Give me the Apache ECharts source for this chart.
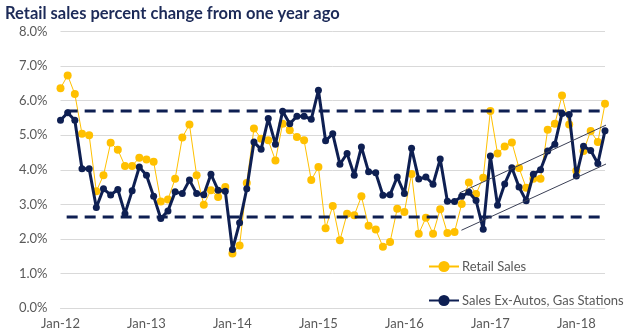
<!DOCTYPE html>
<html>
<head>
<meta charset="utf-8">
<script src="https://cdn.jsdelivr.net/npm/echarts@6/dist/echarts.min.js"></script>
<style>
html,body{margin:0;padding:0;background:#fff;}
#c{width:626px;height:332px;}
</style>
</head>
<body>
<div id="c"></div>
<script>
// ---- data ----
const years = ['12','13','14','15','16','17','18'];
const monthNames = ['Jan','Feb','Mar','Apr','May','Jun','Jul','Aug','Sep','Oct','Nov','Dec'];
const categories = [];
years.forEach(y => monthNames.forEach(m => categories.push(m + '-' + y)));
categories.length = 77; // Jan-12 .. May-18

const retailSales = [
  6.36, 6.73, 6.19, 5.04, 5.00, 3.38, 3.84, 4.78, 4.58, 4.11, 4.11, 4.35,
  4.30, 4.23, 3.08, 3.14, 3.74, 4.93, 5.31, 3.84, 2.99, 3.41, 3.21, 3.50,
  1.58, 1.81, 3.62, 5.19, 4.90, 4.85, 4.27, 5.33, 5.14, 4.95, 4.85, 3.70,
  4.08, 2.31, 2.95, 1.96, 2.73, 2.68, 3.23, 2.38, 2.27, 1.77, 1.91, 2.87,
  2.78, 3.88, 2.15, 2.61, 2.15, 2.86, 2.17, 2.20, 3.01, 3.63, 3.30, 3.77,
  5.70, 4.47, 4.67, 4.79, 4.05, 3.48, 3.74, 3.74, 5.16, 5.33, 6.15, 5.31,
  3.97, 4.54, 5.12, 4.80, 5.91
];
const salesExAutosGas = [
  5.43, 5.65, 5.43, 4.03, 4.03, 2.91, 3.45, 3.27, 3.43, 2.73, 3.39, 4.08,
  3.84, 3.23, 2.59, 2.81, 3.36, 3.31, 3.70, 3.31, 3.28, 3.87, 3.41, 3.38,
  1.69, 2.47, 3.45, 4.80, 4.59, 5.48, 4.74, 5.69, 5.33, 5.55, 5.55, 5.46,
  6.30, 4.84, 5.04, 4.16, 4.47, 3.84, 4.66, 3.94, 3.91, 3.26, 3.28, 3.79,
  3.31, 4.62, 3.73, 3.79, 3.58, 4.31, 3.09, 3.08, 3.23, 3.35, 3.11, 2.28,
  4.40, 2.97, 3.59, 4.06, 3.50, 3.10, 3.87, 4.00, 4.54, 4.74, 5.63, 5.60,
  3.82, 4.68, 4.56, 4.18, 5.13
];
// reference band (dashed) levels and the x-range they cover (month index)
const bandUpper = 5.70;
const bandLower = 2.63;
const bandStart = 0.86;
const bandEnd = 76;
// trend channel lines: [monthIndex, value] endpoints
const trendUpper = [[55.7, 3.33], [78.1, 5.48]];
const trendLower = [[55.96, 2.25], [78.5, 4.39]];
const yTicks = [0, 1, 2, 3, 4, 5, 6, 7, 8];

const FONT = 'Lato, "Open Sans", sans-serif';
const NAVY = '#0e1f52';
const GOLD = '#ffc000';

const chart = echarts.init(document.getElementById('c'), null, {renderer: 'canvas'});
chart.setOption({
  animation: false,
  backgroundColor: '#fff',
  title: {
    text: 'Retail sales percent change from one year ago',
    left: 0, top: 0,
    textStyle: {fontFamily: FONT, fontSize: 16.5, fontWeight: 'bold', color: '#1c2a58'}
  },
  grid: {left: 60.5, right: 21, top: 31.5, bottom: 24, containLabel: false},
  legend: {
    orient: 'vertical',
    left: 423, top: 255,
    itemWidth: 30, itemHeight: 14, itemGap: 21,
    data: ['Retail Sales', 'Sales Ex-Autos, Gas Stations'],
    textStyle: {fontFamily: FONT, fontSize: 13, color: '#595959', padding: [0, 0, 0, -2]}
  },
  xAxis: [{
    type: 'category',
    data: categories,
    boundaryGap: false,
    axisLine: {show: true, lineStyle: {color: '#d9d9d9', width: 1}},
    axisTick: {show: false},
    axisLabel: {
      interval: 11, margin: 9,
      fontFamily: FONT, fontSize: 13, color: '#595959'
    },
    splitLine: {show: false}
  }, {
    type: 'value', min: 0, max: categories.length - 1, show: false
  }],
  yAxis: {
    type: 'value', min: 0, max: 8, interval: 1,
    axisLine: {show: false}, axisTick: {show: false},
    axisLabel: {
      margin: 13, fontFamily: FONT, fontSize: 13, color: '#595959',
      formatter: v => yTicks.includes(v) ? v.toFixed(1) + '%' : ''
    },
    splitLine: {lineStyle: {color: '#d9d9d9', width: 1}}
  },
  series: [
    {
      name: 'Retail Sales', type: 'line', data: retailSales,
      symbol: 'circle', symbolSize: 8, z: 2,
      showSymbol: true, showAllSymbol: true,
      lineStyle: {color: GOLD, width: 1},
      itemStyle: {color: GOLD}
    },
    {
      name: 'Sales Ex-Autos, Gas Stations', type: 'line', data: salesExAutosGas,
      symbol: 'circle', symbolSize: 7, z: 3,
      showSymbol: true, showAllSymbol: true,
      lineStyle: {color: NAVY, width: 3},
      itemStyle: {color: NAVY}
    },
    {
      name: 'upperBand', type: 'line', xAxisIndex: 1, z: 4,
      data: [[bandStart, bandUpper], [bandEnd, bandUpper]],
      symbol: 'none', silent: true,
      lineStyle: {color: NAVY, width: 3, type: [11, 7]}
    },
    {
      name: 'lowerBand', type: 'line', xAxisIndex: 1, z: 4,
      data: [[bandStart, bandLower], [bandEnd, bandLower]],
      symbol: 'none', silent: true,
      lineStyle: {color: NAVY, width: 3, type: [11, 7]}
    },
    {
      name: 'trendUpper', type: 'line', xAxisIndex: 1, z: 5, clip: false,
      data: trendUpper, symbol: 'none', silent: true,
      lineStyle: {color: '#3a3f55', width: 1}
    },
    {
      name: 'trendLower', type: 'line', xAxisIndex: 1, z: 5, clip: false,
      data: trendLower, symbol: 'none', silent: true,
      lineStyle: {color: '#3a3f55', width: 1}
    }
  ]
});
</script>
</body>
</html>
